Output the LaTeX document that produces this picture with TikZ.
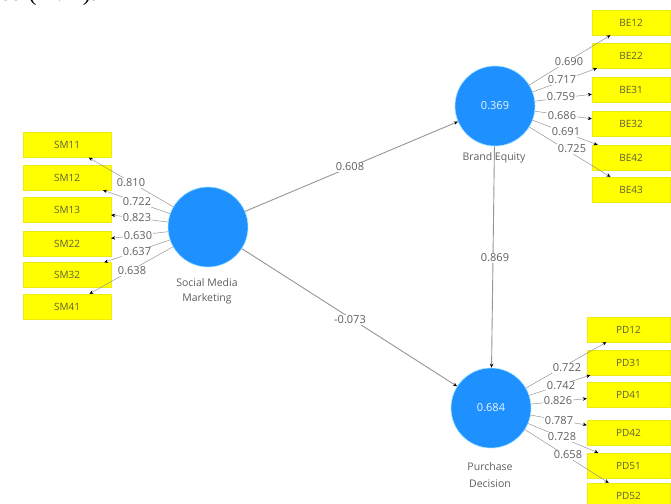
\documentclass[tikz,border=0pt]{standalone}
\usepackage{fontspec}
\setmainfont{Open Sans}
\newfontfamily\capserif{Liberation Serif}
\usetikzlibrary{arrows.meta}
\definecolor{lvblue}{RGB}{30,144,255}
\definecolor{indyellow}{RGB}{255,255,0}
\definecolor{indtext}{RGB}{95,95,60}
\definecolor{valtext}{RGB}{95,95,95}
\definecolor{pathgray}{RGB}{150,150,150}
\tikzset{
  lv/.style={circle, fill=lvblue, draw=lvblue!60!cyan!40, line width=0.6pt,
    minimum size=80pt, inner sep=0pt, text=white!92!lvblue, font=\fontsize{11}{12}\selectfont},
  ind/.style={rectangle, fill=indyellow, draw=indyellow!85!gray, line width=0.3pt,
    minimum height=25pt, inner sep=0pt, text=indtext, font=\fontsize{10}{11}\selectfont},
  smind/.style={ind, minimum width=88pt},
  beind/.style={ind, minimum width=78pt},
  pdind/.style={ind, minimum width=83pt},
  tip/.style={-{Stealth[length=4pt,width=3.5pt,color=black]}},
  inner path/.style={tip, draw=pathgray, line width=0.9pt},
  loading/.style={tip, draw=pathgray, line width=0.5pt},
  val/.style={text=valtext, font=\fontsize{11}{12}\selectfont, inner sep=0.5pt, fill=white},
  lvname/.style={text=valtext, font=\fontsize{10.5}{12}\selectfont, align=center, inner sep=0pt},
}
\begin{document}
\begin{tikzpicture}[x=1pt,y=-1pt]
\useasboundingbox (0,0) rectangle (671,503);
\clip (0,0) rectangle (671,503);
\fill[white] (0,0) rectangle (671,503);

% end of the text line above the figure, cut by the frame
\node[anchor=base east, inner sep=0pt, font=\capserif\fontsize{24}{24}\selectfont] (caption) at (97,0.5) {Extracted (AVE).};

% latent variables
\node[lv] (smm) at (208,227) {};
\node[lv] (be)  at (495,106) {0.369};
\node[lv] (pd)  at (491,408) {0.684};

\node[lvname] (smmname) at (207,291) {Social Media\\[3pt]Marketing};
\node[lvname] (bename)  at (494,158) {Brand Equity};
\node[lvname] (pdname)  at (490,475) {Purchase\\[5pt]Decision};

% indicators of Social Media Marketing
\node[smind] (sm11) at (67,145)   {SM11};
\node[smind] (sm12) at (67,177.5) {SM12};
\node[smind] (sm13) at (67,209.5) {SM13};
\node[smind] (sm22) at (67,243.5) {SM22};
\node[smind] (sm32) at (67,275)   {SM32};
\node[smind] (sm41) at (67,306.5) {SM41};

% indicators of Brand Equity
\node[beind] (be12) at (631,22.5)  {BE12};
\node[beind] (be22) at (631,55.5)  {BE22};
\node[beind] (be31) at (631,89.5)  {BE31};
\node[beind] (be32) at (631,124)   {BE32};
\node[beind] (be42) at (631,157.5) {BE42};
\node[beind] (be43) at (631,189.5) {BE43};

% indicators of Purchase Decision
\node[pdind] (pd12) at (628.5,329.5) {PD12};
\node[pdind] (pd31) at (628.5,362.5) {PD31};
\node[pdind] (pd41) at (628.5,394.5) {PD41};
\node[pdind] (pd42) at (628.5,432.5) {PD42};
\node[pdind] (pd51) at (628.5,465.5) {PD51};
\node[pdind] (pd52) at (628.5,495.5) {PD52};

% outer loadings
\foreach \i in {sm11,sm12,sm13,sm22,sm32,sm41} \draw[loading] (smm) -- (\i);
\foreach \i in {be12,be22,be31,be32,be42,be43} \draw[loading] (be) -- (\i);
\foreach \i in {pd12,pd31,pd41,pd42,pd51,pd52} \draw[loading] (pd) -- (\i);

\node[val] (l1) at (131,183) {0.810};
\node[val] (l2) at (137,202) {0.722};
\node[val] (l3) at (137,218) {0.823};
\node[val] (l4) at (138,236) {0.630};
\node[val] (l5) at (137,252) {0.637};
\node[val] (l6) at (132,271) {0.638};

\node[val] (b1) at (569,62)  {0.690};
\node[val] (b2) at (562,80)  {0.717};
\node[val] (b3) at (561,97)  {0.759};
\node[val] (b4) at (562,116) {0.686};
\node[val] (b5) at (566,132) {0.691};
\node[val] (b6) at (572,149) {0.725};

\node[val] (p1) at (567,368) {0.722};
\node[val] (p2) at (561,386) {0.742};
\node[val] (p3) at (558,401) {0.826};
\node[val] (p4) at (559,421) {0.787};
\node[val] (p5) at (562,437) {0.728};
\node[val] (p6) at (568,455) {0.658};

% structural paths
\draw[inner path] (smm) -- (be);
\draw[inner path] (smm) -- (pd);
\draw[inner path] (be) -- (pd);

\node[val] (c1) at (350,167) {0.608};
\node[val] (c2) at (350,320) {-0.073};
\node[val] (c3) at (495,258) {0.869};
\end{tikzpicture}
\end{document}
